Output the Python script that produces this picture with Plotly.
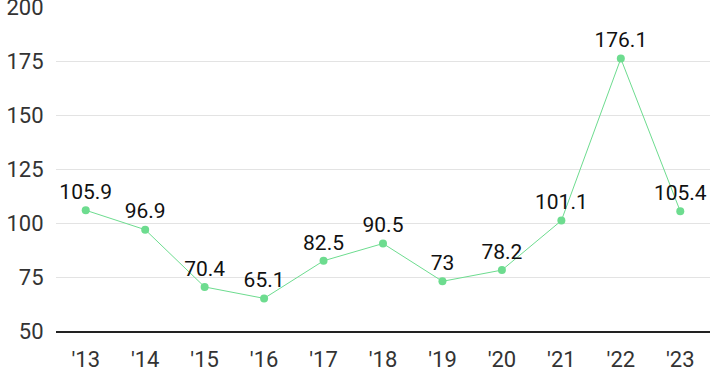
import plotly.graph_objects as go

years = ["'13", "'14", "'15", "'16", "'17", "'18", "'19", "'20", "'21", "'22", "'23"]
values = [105.9, 96.9, 70.4, 65.1, 82.5, 90.5, 73, 78.2, 101.1, 176.1, 105.4]
y_ticks = [50, 75, 100, 125, 150, 175, 200]

color = "#6ddc8f"

fig = go.Figure(go.Scatter(
    x=years, y=values,
    mode="lines+markers+text",
    line=dict(color=color, width=1),
    marker=dict(color=color, size=8),
    text=[str(v) for v in values],
    textposition="top center",
    textfont=dict(family="Roboto", size=21, color="#111111"),
    cliponaxis=False,
))

fig.update_layout(
    width=710, height=371,
    margin=dict(l=56, r=0, t=7, b=40, autoexpand=False),
    plot_bgcolor="white", paper_bgcolor="white",
    showlegend=False,
    xaxis=dict(
        type="category",
        range=[-0.5, len(years) - 0.5],
        automargin=False,
        showgrid=False,
        showline=True, linecolor="#222222", linewidth=1.5,
        ticks="outside", ticklen=8, tickcolor="rgba(0,0,0,0)",
        tickfont=dict(family="Roboto", size=22, color="#333333"),
        ticklabeloverflow="allow",
    ),
    yaxis=dict(
        automargin=False,
        range=[50, 200],
        tickvals=y_ticks,
        showgrid=True, gridcolor="#e3e3e3", gridwidth=1,
        zeroline=False,
        ticks="outside", ticklen=7, tickcolor="rgba(0,0,0,0)",
        tickfont=dict(family="Roboto", size=22, color="#333333"),
        ticklabeloverflow="allow",
    ),
)

fig.write_html(
    "out.html",
    config={"displayModeBar": False},
    post_script="document.body.style.margin='0';document.body.style.overflow='hidden';",
)
